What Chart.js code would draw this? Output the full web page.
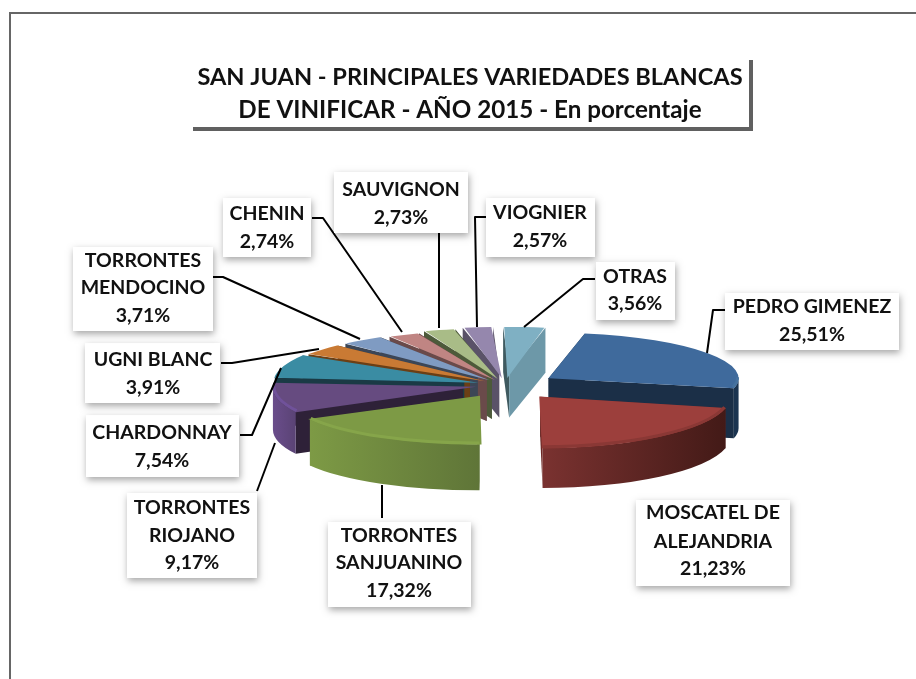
<!DOCTYPE html>
<html>
<head>
<meta charset="utf-8">
<style>
html,body{margin:0;padding:0;background:#fff;}
canvas{display:block;}
#wrap{width:916px;height:679px;position:relative;}
</style>
<script src="https://cdn.jsdelivr.net/npm/chart.js@4"></script>
</head>
<body>
<div id="wrap"><canvas id="c" width="916" height="679"></canvas></div>
<script>
const titleLines = ['SAN JUAN - PRINCIPALES VARIEDADES BLANCAS', 'DE VINIFICAR - AÑO 2015 - En porcentaje'];
const categoryLines = [
  ['PEDRO GIMENEZ'], ['MOSCATEL DE', 'ALEJANDRIA'], ['TORRONTES', 'SANJUANINO'], ['TORRONTES', 'RIOJANO'],
  ['CHARDONNAY'], ['UGNI BLANC'], ['TORRONTES', 'MENDOCINO'], ['CHENIN'], ['SAUVIGNON'], ['VIOGNIER'], ['OTRAS']
];
const categories = categoryLines.map(l => l.join(' '));
const values = [25.51, 21.23, 17.32, 9.17, 7.54, 3.91, 3.71, 2.74, 2.73, 2.57, 3.56];

const topColors  = ['#3F6A9C','#9C3F3C','#7D9A45','#664B80','#3A8CA3','#C97A34','#7F9BC2','#C08583','#A9BC87','#9587AD','#7FB0C3'];
const faceStart  = ['#1B2F47','#5F2320','#5F7538','#2E2138','#1A3A45','#6B3F15','#3C4656','#6A4A4A','#4D5A3A','#5A5268','#3F5A60'];
const faceEnd    = ['#1B2F47','#6A2825','#5F7538','#2E2138','#1A3A45','#6B3F15','#3C4656','#6A4A4A','#4D5A3A','#5A5268','#6D98A8'];
const wallLeft   = ['#1B3450','#7A3230','#7D9A45','#6A4D8B','#2E7085','#9A5E28','#64799A','#966867','#84936A','#756A88','#648A99'];
const wallRight  = ['#1B3450','#431A17','#5F7538','#5A4375','#2E7085','#9A5E28','#64799A','#966867','#84936A','#756A88','#648A99'];
const rimColors  = ['#46729F','#8A3835','#86A54A','#70529A',null,null,null,null,null,null,null];

// view of each slice in the tilted, exploded pie (styling only)
const sliceFlat    = [0.24,0.27,0.25,0.27,0.26,0.24,0.24,0.24,0.24,0.24,0.24];
const sliceDepth   = [50,40,46,42,45,45,45,45,45,45,45];
const sliceExplode = [52,56,55,43,43,45,45,42,48,52,52];

// annotation layout: box [x0,y0,x1,y1], text centre x, line centre ys, leader polyline
const labelLayout = [
  {box:[725,293,899,350], cx:812, ys:[307,335], leader:[[725,310],[713,310],[707,353]]},
  {box:[636,500,790,586], cx:713, ys:[513,542,569], leader:null},
  {box:[328,522,471,607], cx:399, ys:[536,563,591], leader:[[382,485],[382,518]]},
  {box:[127,493,257,578], cx:192, ys:[508,536,563], leader:[[257,491],[275,443]]},
  {box:[86,415,239,477],  cx:162, ys:[433,461], leader:[[240,435],[252,435],[281,368]]},
  {box:[85,343,220,403],  cx:153, ys:[360,388], leader:[[221,363],[232,363],[319,349]]},
  {box:[73,247,213,331],  cx:143, ys:[261,288,316], leader:[[213,277],[223,277],[360,339]]},
  {box:[223,198,311,257], cx:267, ys:[214,242], leader:[[312,218],[323,218],[402,332]]},
  {box:[334,172,468,233], cx:401, ys:[190,218], leader:[[439,233],[439,328]]},
  {box:[486,198,595,257], cx:540, ys:[213,241], leader:[[486,217],[475,217],[477,327]]},
  {box:[596,262,675,320], cx:635, ys:[277,304], leader:[[595,279],[583,279],[524,327]]}
];

const RADIUS = 190;
const FONT_LABEL = 'bold 19.5px Lato';

function fmt(v){ return v.toFixed(2).replace('.', ',') + '%'; }

const pie3d = {
  id: 'pie3d',
  beforeDatasetsDraw(chart) {
    const ctx = chart.ctx;
    const arcs = chart.getDatasetMeta(0).data;
    const order = arcs.map((a,i) => i).sort((p,q) => {
      const mp=(arcs[p].startAngle+arcs[p].endAngle)/2, mq=(arcs[q].startAngle+arcs[q].endAngle)/2;
      return Math.sin(mp)-Math.sin(mq);
    });
    for (const i of order) {
      const a = arcs[i];
      const FLAT = sliceFlat[i], DEPTH = sliceDepth[i], EXPLODE = sliceExplode[i];
      const {x,y,startAngle:s,endAngle:e,outerRadius:R} = a.getProps(['x','y','startAngle','endAngle','outerRadius'], true);
      const m = (s+e)/2;
      const tx = x + Math.cos(m)*EXPLODE, ty = y + Math.sin(m)*EXPLODE*FLAT;
      const pt = (ang) => [tx + Math.cos(ang)*R, ty + Math.sin(ang)*R*FLAT];
      const quad = (ang, col) => {
        const p = pt(ang);
        ctx.fillStyle = col; ctx.beginPath();
        ctx.moveTo(tx,ty); ctx.lineTo(p[0],p[1]); ctx.lineTo(p[0],p[1]+DEPTH); ctx.lineTo(tx,ty+DEPTH);
        ctx.closePath(); ctx.fill();
      };
      const sVisible = -Math.cos(s) > 0, eVisible = Math.cos(e) > 0;
      if (!sVisible) quad(s, faceStart[i]);
      if (!eVisible) quad(e, faceEnd[i]);
      if (sVisible) quad(s, faceStart[i]);
      if (eVisible) quad(e, faceEnd[i]);
      // outer wall: front half of the rim only
      const TAU = Math.PI*2;
      for (let k=-1;k<=1;k++){
        const lo = Math.max(s, k*TAU), hi = Math.min(e, k*TAU+Math.PI);
        if (hi>lo){
          const p0=pt(lo), p1=pt(hi);
          const g = ctx.createLinearGradient(Math.min(p0[0],p1[0]),0,Math.max(p0[0],p1[0]),0);
          g.addColorStop(0, wallLeft[i]); g.addColorStop(1, wallRight[i]);
          ctx.fillStyle = g;
          ctx.beginPath();
          ctx.ellipse(tx,ty,R,R*FLAT,0,lo,hi,false);
          ctx.ellipse(tx,ty+DEPTH,R,R*FLAT,0,hi,lo,true);
          ctx.closePath(); ctx.fill();
        }
      }
      // top face drawn by the library element, squashed into perspective
      ctx.save();
      ctx.translate(x,y); ctx.scale(1,FLAT); ctx.translate(-x,-y);
      a.draw(ctx);
      ctx.restore();
      // bevel on the rim
      if (rimColors[i]) {
        for (let k=-1;k<=1;k++){
          const lo = Math.max(s, k*TAU), hi = Math.min(e, k*TAU+Math.PI);
          if (hi>lo){
            ctx.strokeStyle = rimColors[i]; ctx.lineWidth = 3;
            ctx.beginPath();
            ctx.ellipse(tx,ty-1,R-1,(R-1)*FLAT,0,lo,hi,false);
            ctx.stroke();
          }
        }
      }
    }
    return false;
  },
  afterDraw(chart) {
    const ctx = chart.ctx;
    ctx.save();
    // outer frame
    ctx.strokeStyle = '#666'; ctx.lineWidth = 2;
    ctx.beginPath(); ctx.moveTo(10,679); ctx.lineTo(10,13); ctx.lineTo(916,13); ctx.stroke();
    // title
    ctx.fillStyle = '#606060';
    ctx.fillRect(749,60,4,71); ctx.fillRect(193,127,560,4);
    ctx.textAlign = 'center'; ctx.textBaseline = 'middle';
    ctx.fillStyle = '#111';
    ctx.font = 'bold 23.6px Lato';
    ctx.fillText(titleLines[0], 470, 77);
    ctx.font = 'bold 24.2px Lato';
    ctx.fillText(titleLines[1], 470, 110);
    // leaders
    ctx.strokeStyle = '#000'; ctx.lineWidth = 2; ctx.lineJoin = 'round';
    labelLayout.forEach(l => {
      if (!l.leader) return;
      ctx.beginPath();
      l.leader.forEach((p,k) => k ? ctx.lineTo(p[0],p[1]) : ctx.moveTo(p[0],p[1]));
      ctx.stroke();
    });
    // label boxes
    labelLayout.forEach((l,i) => {
      const [x0,y0,x1,y1] = l.box;
      ctx.save();
      ctx.shadowColor = 'rgba(0,0,0,0.35)'; ctx.shadowBlur = 7; ctx.shadowOffsetX = 1; ctx.shadowOffsetY = 3;
      ctx.fillStyle = '#fff'; ctx.fillRect(x0,y0,x1-x0,y1-y0);
      ctx.restore();
      ctx.fillStyle = '#111'; ctx.font = FONT_LABEL;
      const lines = categoryLines[i].concat([fmt(values[i])]);
      lines.forEach((t,k) => ctx.fillText(t, l.cx, l.ys[k]));
    });
    ctx.restore();
  }
};

const circ = v => v/100*Math.PI*2;
new Chart(document.getElementById('c'), {
  type: 'pie',
  data: { labels: categories, datasets: [{
    data: values,
    backgroundColor: topColors,
    borderWidth: 0,
    offset: c => sliceExplode[c.dataIndex]*4/(2 - Math.sin(Math.min(Math.PI, circ(values[c.dataIndex]))))
  }]},
  options: {
    responsive: false,
    animation: false,
    radius: RADIUS,
    rotation: 11,
    layout: { padding: { left: 94, top: 91, right: 0, bottom: 0 } },
    plugins: { legend: { display: false }, tooltip: { enabled: false } }
  },
  plugins: [pie3d]
});
</script>
</body>
</html>
